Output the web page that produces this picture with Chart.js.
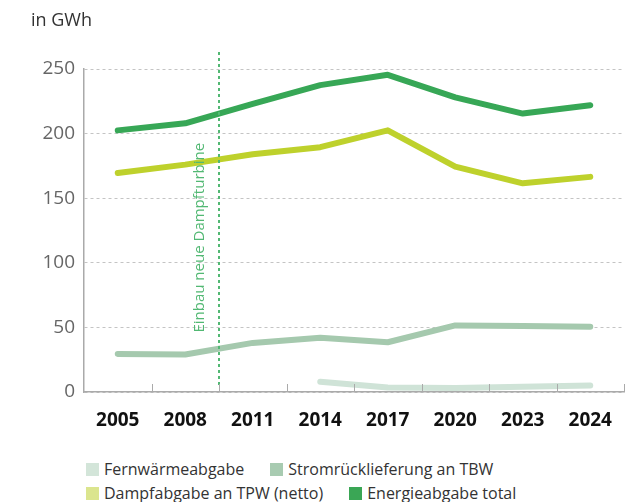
<!DOCTYPE html>
<html>
<head>
    <title>Energieabgabe</title>
    <script src="https://cdn.jsdelivr.net/npm/chart.js"></script>
    <style>
        body { margin: 0; background: #fff; font-family: 'Open Sans', sans-serif; }
        #wrap { position: relative; width: 633px; height: 502px; overflow: hidden; }
        #unit { position: absolute; left: 31px; top: 7px; font-size: 18px; color: #333; }
        #chartBox { position: absolute; left: 0; top: 0; width: 633px; height: 440px; }
        #legend { position: absolute; left: 86px; top: 457px; font-size: 16px; color: #333; line-height: 24px; }
        #legend .item { display: inline-block; margin-right: 26px; white-space: nowrap; }
        #legend .box { display: inline-block; width: 13px; height: 13px; margin-right: 5px; vertical-align: -1px; }
    </style>
    <script>
        const years = ['2005', '2008', '2011', '2014', '2017', '2020', '2023', '2024'];
        const fernwaerme = [null, null, null, 8, 3.5, 3, 4, 5];
        const stromTBW = [29.5, 29, 38, 42, 38.5, 51.5, 51, 50.5];
        const dampfTPW = [169.5, 176, 184, 189.5, 202.5, 174.5, 161.5, 166.5];
        const total = [202.5, 208, 223, 237.5, 245.5, 228, 215.5, 222];
        const seriesNames = ['Fernwärmeabgabe', 'Stromrücklieferung an TBW', 'Dampfabgabe an TPW (netto)', 'Energieabgabe total'];
        const lineColors = ['#cfe3d7', '#a5c9ae', '#bed12c', '#37a756'];
        const legendColors = ['#d3e5d9', '#a8cbb1', '#dbe58e', '#3aa655'];

        // marker between 2008 and 2011
        const markerIndex = 1.5;
        const markerText = 'Einbau neue Dampfturbine';

        const markerPlugin = {
            id: 'marker',
            afterDatasetsDraw(chart) {
                const { ctx, chartArea, scales } = chart;
                const x = Math.round(scales.x.getPixelForValue(markerIndex));
                ctx.save();
                ctx.strokeStyle = '#52b873';
                ctx.lineWidth = 2;
                ctx.setLineDash([3, 3]);
                ctx.beginPath();
                ctx.moveTo(x, chartArea.top - 17);
                ctx.lineTo(x, chartArea.bottom - 4);
                ctx.stroke();
                ctx.setLineDash([]);

                ctx.translate(x - 19, scales.y.getPixelForValue(46));
                ctx.rotate(-Math.PI / 2);
                ctx.fillStyle = '#52b873';
                ctx.font = '15px "Open Sans"';
                ctx.textAlign = 'left';
                ctx.textBaseline = 'middle';
                ctx.fillText(markerText, 0, 0);
                ctx.restore();

                // small ticks pointing up from the x axis
                ctx.save();
                ctx.strokeStyle = '#aaa';
                ctx.lineWidth = 1;
                for (let i = 1; i <= years.length; i++) {
                    const tx = Math.round(scales.x.getPixelForValue(i - 0.5)) + 0.5;
                    ctx.beginPath();
                    ctx.moveTo(tx, chartArea.bottom);
                    ctx.lineTo(tx, chartArea.bottom - 8);
                    ctx.stroke();
                }
                ctx.restore();
            }
        };

        document.addEventListener('DOMContentLoaded', function () {
            const values = [fernwaerme, stromTBW, dampfTPW, total];
            const datasets = values.map((v, i) => ({
                label: seriesNames[i],
                data: v,
                borderColor: lineColors[i],
                backgroundColor: lineColors[i],
                borderWidth: 6,
                borderCapStyle: 'round',
                borderJoinStyle: 'round',
                pointRadius: 0,
                tension: 0,
                fill: false
            }));

            new Chart(document.getElementById('chart'), {
                type: 'line',
                data: { labels: years, datasets: datasets },
                plugins: [markerPlugin],
                options: {
                    responsive: false,
                    animation: false,
                    layout: { padding: { top: 69, right: 9, left: 0, bottom: 0 } },
                    plugins: { legend: { display: false }, tooltip: { enabled: false } },
                    scales: {
                        x: {
                            offset: true,
                            grid: { display: false, offset: true },
                            border: { display: true, color: '#aaa', width: 1.5 },
                            ticks: {
                                color: '#111',
                                font: { family: 'Open Sans', size: 19, weight: 'bold' },
                                padding: 9,
                                maxRotation: 0
                            },
                            afterFit(s) { s.height = 48; }
                        },
                        y: {
                            min: 0,
                            max: 250,
                            grid: { color: '#c4c4c4', lineWidth: 1, drawTicks: false },
                            border: { display: true, color: '#aaa', width: 1.5, dash: [3, 3] },
                            ticks: {
                                stepSize: 50,
                                color: '#666',
                                font: { family: 'Open Sans', size: 19 },
                                padding: 9
                            },
                            afterFit(s) { s.width = 84; }
                        }
                    }
                }
            });

            const legend = document.getElementById('legend');
            const rows = [[0, 1], [2, 3]];
            rows.forEach(r => {
                const row = document.createElement('div');
                r.forEach(i => {
                    const item = document.createElement('span');
                    item.className = 'item';
                    item.innerHTML = '<span class="box" style="background:' + legendColors[i] + '"></span>' + seriesNames[i];
                    row.appendChild(item);
                });
                legend.appendChild(row);
            });
        });
    </script>
</head>
<body>
<div id="wrap">
    <div id="chartBox"><canvas id="chart" width="633" height="440"></canvas></div>
    <div id="unit">in GWh</div>
    <div id="legend"></div>
</div>
</body>
</html>
